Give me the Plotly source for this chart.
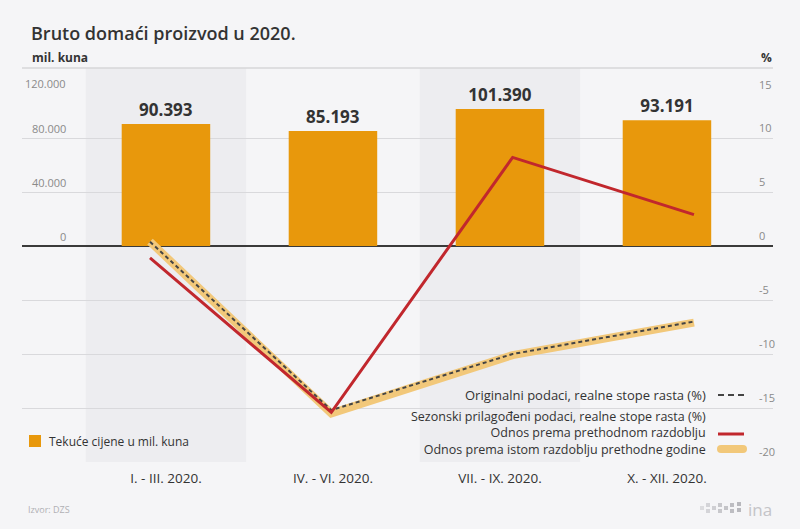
import plotly.graph_objects as go

# ---- data ----
quarters = ["I. - III. 2020.", "IV. - VI. 2020.", "VII. - IX. 2020.", "X. - XII. 2020."]
gdp_current = [90393, 85193, 101390, 93191]          # mil. kuna
orig_yoy = [0.4, -15.2, -10.0, -7.0]                 # Originalni podaci (%)
sa_qoq = [-1.1, -15.4, 8.2, 2.9]                     # Odnos prema prethodnom razdoblju (%)
sa_yoy = [0.4, -15.5, -10.1, -7.1]                   # Odnos prema istom razdoblju prethodne godine (%)
left_ticks = [0, 40000, 80000, 120000]
left_ticktext = ["0", "40.000", "80.000", "120.000"]
right_ticks = [15, 10, 5, 0, -5, -10, -15, -20]

# ---- styling ----
W, H = 800, 529
L, R, T, B = 22, 773, 84, 462
BG = "#f5f5f7"
BAND = "#ededf0"
ORANGE = "#e8980c"
RED = "#c1272d"
YELLOW = "#f2c87a"
DARK = "#3a3a3a"
TXT = "#333333"
FONT = "Open Sans"


def pxx(x):
    return (x - L) / (R - L)


def pxy(y):
    return (B - y) / (B - T)


fig = go.Figure()

fig.add_trace(go.Bar(
    x=quarters, y=gdp_current, width=0.53, marker_color=ORANGE,
    marker_line_width=0, texttemplate="%{y:,.0f}", textposition="outside",
    textfont=dict(size=17, color=TXT, family=FONT, weight="bold"),
    cliponaxis=False, xaxis="x", yaxis="y", hoverinfo="skip", showlegend=False,
))

idx = list(range(len(quarters)))
fig.add_trace(go.Scatter(
    x=idx, y=sa_yoy, mode="lines", line=dict(color=YELLOW, width=8),
    xaxis="x2", yaxis="y2", showlegend=False,
))
fig.add_trace(go.Scatter(
    x=idx, y=orig_yoy, mode="lines", line=dict(color="#444444", width=2, dash="4px,3px"),
    xaxis="x2", yaxis="y2", showlegend=False,
))
fig.add_trace(go.Scatter(
    x=idx, y=sa_qoq, mode="lines", line=dict(color=RED, width=3),
    xaxis="x2", yaxis="y2", showlegend=False,
))

shapes = []
# shaded bands
for i in (0, 2):
    shapes.append(dict(type="rect", xref="x", yref="paper", x0=i - 0.48, x1=i + 0.48,
                       y0=0, y1=pxy(68), fillcolor=BAND, line_width=0, layer="below"))
# top rule
shapes.append(dict(type="line", xref="paper", yref="paper", x0=0, x1=1,
                   y0=pxy(68), y1=pxy(68), line=dict(color="#d6d6d8", width=1.5)))

annotations = []
# left tick labels
for v, t in zip(left_ticks, left_ticktext):
    annotations.append(dict(x=pxx(68), y=v, xref="paper", yref="y", text=t,
                            xanchor="right", yanchor="middle", showarrow=False,
                            yshift=1 if v == 120000 else 10,
                            font=dict(size=11, color="#8a8a8a", family=FONT)))
# right tick labels
for v in right_ticks:
    annotations.append(dict(x=pxx(757), y=v, xref="paper", yref="y2", text=str(v),
                            xanchor="left", yanchor="middle", showarrow=False,
                            yshift=0 if v == 15 else 11,
                            font=dict(size=11, color="#8a8a8a", family=FONT)))

# titles
annotations += [
    dict(x=pxx(29), y=pxy(33), xref="paper", yref="paper", text="Bruto domaći proizvod u 2020.",
         xanchor="left", yanchor="middle", showarrow=False,
         font=dict(size=18, color=TXT, family=FONT, weight=600)),
    dict(x=pxx(30), y=pxy(57), xref="paper", yref="paper", text="<b>mil. kuna</b>",
         xanchor="left", yanchor="middle", showarrow=False,
         font=dict(size=12, color=TXT, family=FONT)),
    dict(x=pxx(759), y=pxy(57), xref="paper", yref="paper", text="<b>%</b>",
         xanchor="left", yanchor="middle", showarrow=False,
         font=dict(size=12, color=TXT, family=FONT)),
    dict(x=pxx(26), y=pxy(509), xref="paper", yref="paper", text="Izvor: DZS",
         xanchor="left", yanchor="middle", showarrow=False,
         font=dict(size=9, color="#b0b0b4", family=FONT)),
    dict(x=pxx(746), y=pxy(509), xref="paper", yref="paper", text="ina",
         xanchor="left", yanchor="middle", showarrow=False,
         font=dict(size=17, color="#c4c4c8", family=FONT)),
]

# legend (right)
annotations.append(dict(x=pxx(708), y=pxy(395), xref="paper", yref="paper",
                        text="Originalni podaci, realne stope rasta (%)",
                        xanchor="right", yanchor="middle", showarrow=False,
                        font=dict(size=13, color=TXT, family=FONT)))
annotations.append(dict(x=pxx(708), y=pxy(433), xref="paper", yref="paper",
                        text=("Sezonski prilagođeni podaci, realne stope rasta (%)<br>"
                              "Odnos prema prethodnom razdoblju<br>"
                              "Odnos prema istom razdoblju prethodne godine"),
                        align="right", xanchor="right", yanchor="middle", showarrow=False,
                        font=dict(size=12.5, color=TXT, family=FONT)))
shapes.append(dict(type="line", xref="paper", yref="paper", x0=pxx(718), x1=pxx(745),
                   y0=pxy(395), y1=pxy(395), line=dict(color="#444444", width=2, dash="6px,4px")))
shapes.append(dict(type="line", xref="paper", yref="paper", x0=pxx(718), x1=pxx(744),
                   y0=pxy(434), y1=pxy(434), line=dict(color=RED, width=3)))
shapes.append(dict(type="line", xref="paper", yref="paper", x0=pxx(721), x1=pxx(743),
                   y0=pxy(449), y1=pxy(449), line=dict(color=YELLOW, width=8)))
shapes.append(dict(type="circle", xref="paper", yref="paper", x0=pxx(717), x1=pxx(725),
                   y0=pxy(453), y1=pxy(445), fillcolor=YELLOW, line_width=0))
shapes.append(dict(type="circle", xref="paper", yref="paper", x0=pxx(739), x1=pxx(747),
                   y0=pxy(453), y1=pxy(445), fillcolor=YELLOW, line_width=0))

# legend (left)
shapes.append(dict(type="rect", xref="paper", yref="paper", x0=pxx(29), x1=pxx(41),
                   y0=pxy(447), y1=pxy(435), fillcolor=ORANGE, line_width=0))
annotations.append(dict(x=pxx(47), y=pxy(441), xref="paper", yref="paper",
                        text="Tekuće cijene u mil. kuna", xanchor="left", yanchor="middle",
                        showarrow=False, font=dict(size=12, color=TXT, family=FONT)))

# hina logo dots
for dx, dy, c in [(700, 506, "#dcdcdf"), (706, 503, "#d4d4d8"), (706, 509, "#d4d4d8"),
                  (712, 506, "#cfcfd3"), (718, 503, "#c8c8cc"), (718, 509, "#c8c8cc"),
                  (724, 506, "#c4c4c8"), (730, 503, "#bdbdc2"), (730, 509, "#bdbdc2"),
                  (737, 502, "#b8b8bd"), (737, 508, "#b8b8bd")]:
    shapes.append(dict(type="rect", xref="paper", yref="paper", x0=pxx(dx), x1=pxx(dx + 4),
                       y0=pxy(dy + 4), y1=pxy(dy), fillcolor=c, line_width=0))

fig.update_layout(
    width=W, height=H,
    margin=dict(l=L, r=W - R, t=T, b=H - B, autoexpand=False),
    paper_bgcolor=BG, plot_bgcolor="rgba(0,0,0,0)",
    separators=",.",
    font=dict(family=FONT, color=TXT),
    showlegend=False,
    xaxis=dict(type="category", range=[-0.862, 3.635], showgrid=False, zeroline=False,
               showline=False, ticks="", tickfont=dict(size=13.5, color=TXT, family=FONT),
               ticklabelstandoff=6, fixedrange=True),
    xaxis2=dict(overlaying="x", range=[-0.706, 3.436], visible=False, fixedrange=True),
    yaxis=dict(range=[-160000, 120000], showgrid=False, zeroline=False, showticklabels=False,
               fixedrange=True),
    yaxis2=dict(overlaying="y", side="right", range=[-20, 15],
                tickvals=[-20, -15, -10, -5, 5, 10], showticklabels=False,
                showgrid=True, gridcolor="#d9d9dc", gridwidth=1,
                zeroline=True, zerolinecolor=DARK, zerolinewidth=1.5, fixedrange=True),
    shapes=shapes,
    annotations=annotations,
)

fig.write_html("out.html", config={"displayModeBar": False},
               post_script="document.body.style.margin='0';document.body.style.background='" + BG + "';")
